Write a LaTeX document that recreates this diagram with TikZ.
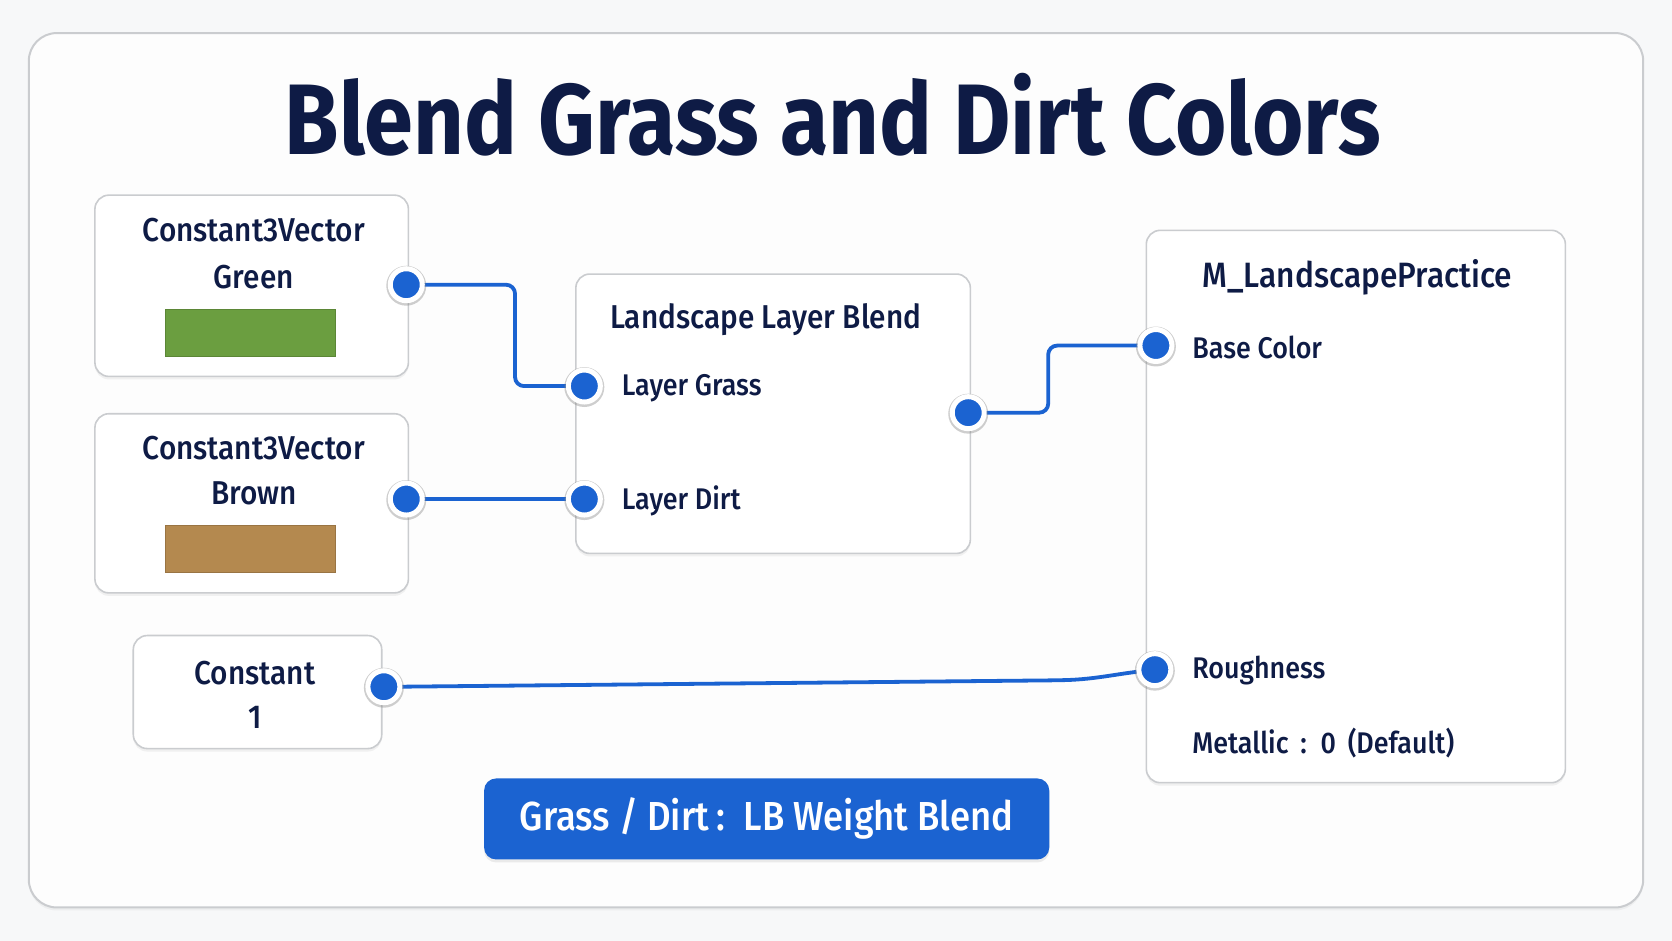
\documentclass[tikz,border=0pt]{standalone}
\usepackage{fontspec}
\setmainfont{Fira Sans}[UprightFont=* Medium, BoldFont=* Bold, FakeStretch=0.90]
\newfontfamily\titlefont{Fira Sans}[UprightFont=* Bold, FakeStretch=0.88]
\usetikzlibrary{shadows, positioning, backgrounds}

\definecolor{ink}{HTML}{0E1B45}
\definecolor{wireblue}{HTML}{1B63D1}
\definecolor{boxline}{HTML}{CACCCF}
\definecolor{grassgreen}{HTML}{6B9E40}
\definecolor{dirtbrown}{HTML}{B4894F}
\definecolor{pagebg}{HTML}{F7F8F9}
\definecolor{framebg}{HTML}{FDFDFD}

\tikzset{
  matbox/.style={draw=boxline, line width=1.6pt, fill=white, rounded corners=14pt,
    drop shadow={shadow xshift=0pt, shadow yshift=-3pt, opacity=0.10}},
  port/.style={circle, fill=wireblue, draw=white, line width=5pt, inner sep=0pt, minimum size=30pt,
    drop shadow={shadow xshift=0pt, shadow yshift=-0.8pt, shadow scale=1.25, opacity=0.38}},
  wire/.style={wireblue, line width=3.8pt, rounded corners=9pt},
  boxtext/.style={font=\fontsize{31}{33}\selectfont, text=ink, inner sep=0pt},
  pintext/.style={font=\fontsize{28}{30}\selectfont, text=ink, inner sep=0pt, anchor=west},
  swatch/.style={minimum width=159pt, minimum height=44pt, inner sep=0pt, draw=#1!85!black, line width=0.6pt, fill=#1}
}

\begin{document}
\begin{tikzpicture}[x=1pt, y=-1pt, scale=1.0663, transform shape]
  \useasboundingbox (0,0) rectangle (1568,882.4);
  \begin{scope}[on background layer]
    \fill[pagebg] (0,0) rectangle (1568,882.4);
    \draw[boxline, line width=2pt, fill=framebg, rounded corners=28pt,
          drop shadow={shadow xshift=0pt, shadow yshift=-3pt, opacity=0.08}]
          (27,31) rectangle (1541,851);
  \end{scope}

  % title
  \node[font=\titlefont\fontsize{94}{96}\selectfont, text=ink, inner sep=0pt] (title) at (781,108) {Blend Grass and Dirt Colors};

  % input constants
  \node[matbox, minimum width=294pt, minimum height=170pt] (green) at (236,268) {};
  \node[boxtext] (greenname) at (238,216) {Constant3Vector};
  \node[boxtext] (greenval) at (238,260) {Green};
  \node[swatch=grassgreen] (greenswatch) at (234.5,312) {};

  \node[matbox, minimum width=294pt, minimum height=168pt] (brown) at (236,472) {};
  \node[boxtext] (brownname) at (238,420) {Constant3Vector};
  \node[boxtext] (brownval) at (238,463) {Brown};
  \node[swatch=dirtbrown] (brownswatch) at (234.5,515) {};

  \node[matbox, minimum width=233pt, minimum height=106pt] (konst) at (241.5,649) {};
  \node[boxtext] (konstname) at (239,631) {Constant};
  \node[boxtext] (konstval) at (239,673) {1};

  % layer blend
  \node[matbox, minimum width=370pt, minimum height=262pt] (blend) at (725,388) {};
  \node[boxtext] (blendname) at (718,300) {Landscape Layer Blend};
  \node[pintext] (grasspin) at (583,364) {Layer Grass};
  \node[pintext] (dirtpin) at (583,470) {Layer Dirt};

  % material output
  \node[matbox, minimum width=393pt, minimum height=518pt] (mat) at (1271.5,475) {};
  \node[boxtext, font=\fontsize{33}{35}\selectfont] (matname) at (1273,260) {M\_LandscapePractice};
  \node[pintext] (basepin) at (1118,326) {Base Color};
  \node[pintext] (roughpin) at (1118,629) {Roughness};
  \node[pintext] (metalpin) at (1118,697) {Metallic \,:\, 0 \,(Default)};

  % ports
  \node[port] (gout) at (381,267) {};
  \node[port] (bout) at (381,468) {};
  \node[port] (kout) at (360,644) {};
  \node[port] (lgin) at (548,362) {};
  \node[port] (ldin) at (548,468) {};
  \node[port] (blout) at (908,387) {};
  \node[port] (bcin) at (1084,324) {};
  \node[port] (rin) at (1083,628) {};

  % wires
  \begin{scope}[on background layer]
    \draw[wire] (gout.center) -- (483,267) |- (lgin.center);
    \draw[wire] (bout.center) -- (ldin.center);
    \draw[wire] (blout.center) -- (983,387) |- (bcin.center);
    \draw[wire] (kout.center) -- (990,638) .. controls (1030,637) and (1050,631) .. (rin.center);
  \end{scope}

  % weight blend badge
  \node[fill=wireblue, rounded corners=12pt, minimum width=530pt, minimum height=76pt,
        text=white, font=\fontsize{38}{40}\selectfont,
        drop shadow={shadow xshift=0pt, shadow yshift=-3pt, opacity=0.15}]
        (badge) at (719,768) {Grass / Dirt\,:\, LB Weight Blend};
\end{tikzpicture}
\end{document}
